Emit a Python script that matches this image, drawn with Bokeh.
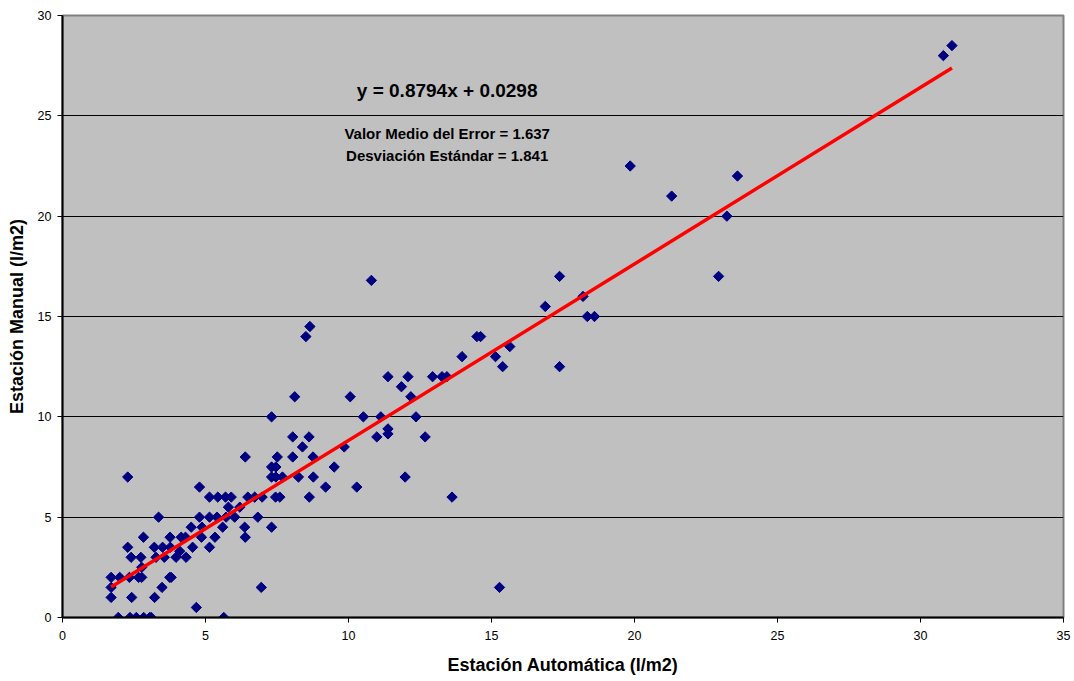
import numpy as np
from bokeh.plotting import figure
from bokeh.models import ColumnDataSource, Label, FixedTicker, Range1d
from bokeh.embed import file_html
from bokeh.resources import INLINE

# Estación Automática (x) and Estación Manual (y), l/m2
auto = [1.7, 1.7, 1.7, 1.95, 2.0, 2.28, 2.28, 2.34, 2.36, 2.4, 2.42, 2.58, 2.66, 2.74, 2.77, 2.77,
        2.83, 2.84, 3.05, 3.1, 3.22, 3.21, 3.27, 3.36, 3.48, 3.56, 3.5, 3.77, 3.76, 3.8, 3.75, 3.97,
        4.15, 4.1, 4.3, 4.32, 4.5, 4.55, 4.68, 4.79, 4.79, 4.88, 4.86, 5.14, 5.14, 5.14, 5.33, 5.4,
        5.43, 5.6, 5.64, 5.7, 5.72, 5.8, 5.9, 6.02, 6.2, 6.39, 6.37, 6.39, 6.48, 6.72, 6.83, 6.95,
        6.98, 7.31, 7.31, 7.46, 7.31, 7.46, 7.31, 7.45, 7.6, 7.51, 7.69, 8.05, 8.05, 8.12, 8.25,
        8.39, 8.51, 8.65, 8.62, 8.63, 8.76, 8.77, 9.2, 9.5, 9.85, 10.06, 10.29, 10.52, 10.8, 10.99,
        11.13, 11.38, 11.38, 11.38, 11.85, 11.98, 12.08, 12.18, 12.36, 12.68, 12.94, 13.27, 13.44,
        13.62, 13.97, 14.49, 14.62, 15.14, 15.28, 15.39, 15.64, 16.88, 17.38, 17.38, 18.2, 18.35,
        18.6, 19.85, 21.3, 22.94, 23.23, 23.6, 30.8, 31.1]
manual = [2.0, 1.5, 1.0, 0.0, 2.0, 7.0, 3.5, 2.0, 0.0, 3.0, 1.0, 0.0, 2.0, 3.0, 2.0, 2.5,
          4.0, 0.0, 0.0, 0.0, 1.0, 3.5, 3.0, 5.0, 1.5, 3.0, 3.5, 3.5, 4.0, 2.0, 2.0, 3.0,
          4.0, 3.3, 4.0, 3.0, 4.5, 3.5, 0.5, 6.5, 5.0, 4.5, 4.0, 6.0, 5.0, 3.5, 4.0, 5.0,
          6.0, 4.5, 0.0, 6.0, 5.0, 5.5, 6.0, 5.0, 5.5, 8.0, 4.5, 4.0, 6.0, 6.0, 5.0, 1.5,
          6.0, 10.0, 7.5, 7.5, 7.0, 7.0, 4.5, 6.0, 6.0, 8.0, 7.0, 9.0, 8.0, 11.0, 7.0,
          8.5, 14.0, 14.5, 9.0, 6.0, 8.0, 7.0, 6.5, 7.5, 8.5, 11.0, 6.5, 10.0, 16.8, 9.0,
          10.0, 12.0, 9.4, 9.15, 11.5, 7.0, 12.0, 11.0, 10.0, 9.0, 12.0, 12.0, 12.0,
          6.0, 13.0, 14.0, 14.0, 13.0, 1.5, 12.5, 13.5, 15.5, 17.0, 12.5, 16.0, 15.0,
          15.0, 22.5, 21.0, 17.0, 20.0, 22.0, 28.0, 28.5]

slope = 0.8794
intercept = 0.0298
x_ticks = [0, 5, 10, 15, 20, 25, 30, 35]
y_ticks = [0, 5, 10, 15, 20, 25, 30]
equation = "y = 0.8794x + 0.0298"
stats_lines = ["Valor Medio del Error = 1.637", "Desviación Estándar = 1.841"]

FONT = "Liberation Sans"

p = figure(width=1074, height=681, output_backend="svg", toolbar_location=None,
           x_range=Range1d(0, 35), y_range=Range1d(0, 30),
           min_border_left=62, min_border_right=11, min_border_top=15, min_border_bottom=64)
p.background_fill_color = "#C0C0C0"
p.border_fill_color = "white"
p.outline_line_color = "#808080"
p.outline_line_width = 2

p.xgrid.grid_line_color = None
p.ygrid.grid_line_color = "black"
p.ygrid.grid_line_width = 1

for ax in (p.xaxis[0], p.yaxis[0]):
    ax.axis_line_color = "black"
    ax.axis_line_width = 2
    ax.major_tick_line_color = "black"
    ax.major_tick_line_width = 1
    ax.major_tick_out = 5
    ax.major_tick_in = 0
    ax.minor_tick_line_color = None
    ax.major_label_text_font = FONT
    ax.major_label_text_font_size = "12.5px"
    ax.major_label_text_color = "black"
    ax.axis_label_text_font = FONT
    ax.axis_label_text_font_size = "18px"
    ax.axis_label_text_font_style = "bold"
    ax.axis_label_text_color = "black"

p.xaxis[0].ticker = FixedTicker(ticks=x_ticks)
p.yaxis[0].ticker = FixedTicker(ticks=y_ticks)
p.xaxis[0].axis_label = "Estación Automática (l/m2)"
p.yaxis[0].axis_label = "Estación Manual (l/m2)"
p.xaxis[0].major_label_standoff = 8
p.xaxis[0].axis_label_standoff = 12
p.yaxis[0].major_label_standoff = 6
p.yaxis[0].axis_label_standoff = 8

src = ColumnDataSource(dict(x=auto, y=manual))
p.scatter("x", "y", source=src, marker="square", size=7.3, angle=np.pi / 4,
          fill_color="#000080", line_color="#000080")

xmin, xmax = min(auto), max(auto)
p.line([xmin, xmax], [slope * xmin + intercept, slope * xmax + intercept],
       line_color="#FF0000", line_width=3.5)

p.add_layout(Label(x=13.45, y=26.25, text=equation, text_font=FONT, text_font_size="19px",
                   text_font_style="bold", text_align="center", text_baseline="middle",
                   text_color="black"))
p.add_layout(Label(x=13.45, y=24.1, text=stats_lines[0], text_font=FONT, text_font_size="15px",
                   text_font_style="bold", text_align="center", text_baseline="middle",
                   text_color="black"))
p.add_layout(Label(x=13.45, y=23.0, text=stats_lines[1], text_font=FONT, text_font_size="15px",
                   text_font_style="bold", text_align="center", text_baseline="middle",
                   text_color="black"))

open("out.html", "w").write(file_html(p, INLINE))
